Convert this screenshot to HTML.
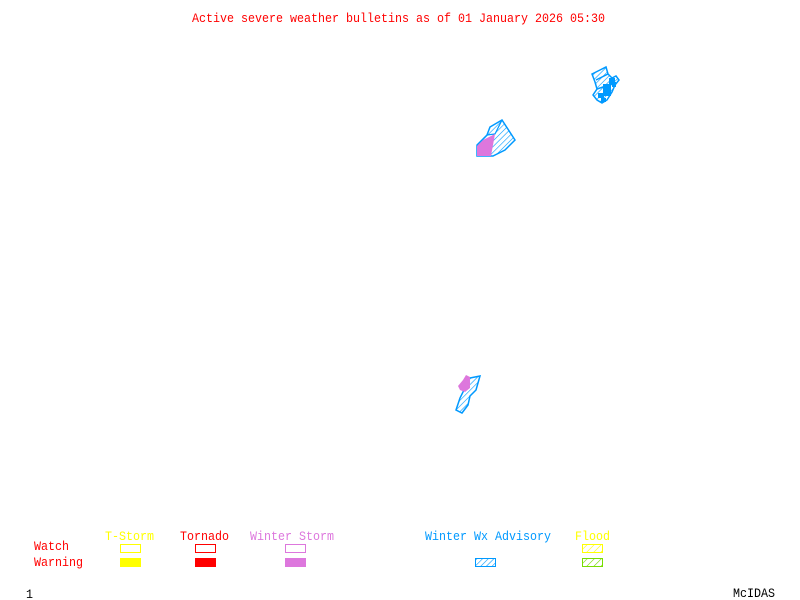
<!DOCTYPE html>
<html><head><meta charset="utf-8"><style>
html,body{margin:0;padding:0;background:#fff;width:800px;height:600px;overflow:hidden}
svg{display:block}
text{font-family:"Liberation Mono",monospace;font-size:13px}
</style></head><body>
<svg width="800" height="600" viewBox="0 0 800 600" xmlns="http://www.w3.org/2000/svg">
<defs>
<pattern id="hb" width="4" height="4" patternUnits="userSpaceOnUse" patternTransform="rotate(45)">
<line x1="0" y1="0" x2="0" y2="4" stroke="#0099ff" stroke-width="1.2"/></pattern>
<pattern id="hy" width="5" height="5" patternUnits="userSpaceOnUse" patternTransform="rotate(45)">
<line x1="0" y1="0" x2="0" y2="5" stroke="#ffff00" stroke-width="1.2"/></pattern>
<pattern id="hg" width="5" height="5" patternUnits="userSpaceOnUse" patternTransform="rotate(45)">
<line x1="0" y1="0" x2="0" y2="5" stroke="#77dd00" stroke-width="1.2"/></pattern>
</defs>
<text x="192" y="22" fill="#ff0000" textLength="413" lengthAdjust="spacingAndGlyphs">Active severe weather bulletins as of 01 January 2026 05:30</text>

<!-- NE blob -->
<g stroke="#0099ff" stroke-width="1.5" fill="url(#hb)">
<polygon points="592,74 600,70 606,67 608,74 612,78 616,76 619,80 615,85 612,92 607,100 602,103 597,100 593,95 597,89 595,82"/>
<line x1="596" y1="80" x2="608" y2="74"/><line x1="597" y1="89" x2="612" y2="84"/>
</g>
<g fill="#0099ff"><rect x="603" y="84" width="8" height="12"/><rect x="609" y="78" width="6" height="6"/><rect x="598" y="93" width="6" height="5"/><rect x="612" y="82" width="4" height="5"/><rect x="601" y="98" width="5" height="4"/></g>

<!-- middle shape -->
<polygon points="490,127 502,120 515,140 505,150 493,156 477,156 477,145 487,135" stroke="#0099ff" stroke-width="1.5" fill="url(#hb)"/>
<polyline points="487,135 495,134 502,120 M495,134 505,150" stroke="#0099ff" stroke-width="1.2" fill="none"/>
<polygon points="477,156 477,146 483,140 495,134 491,156" fill="#dd77dd"/>

<!-- bottom shape -->
<polygon points="470,378 480,376 476,390 470,396 468,405 462,413 456,410 460,398 464,390 466,382" stroke="#0099ff" stroke-width="1.5" fill="url(#hb)"/>
<polygon points="458,386 463,380 466,375 470,377 470,388 465,392 460,390" fill="#dd77dd"/>

<!-- legend -->
<text x="105" y="540" fill="#ffff00" textLength="49" lengthAdjust="spacingAndGlyphs">T-Storm</text>
<text x="180" y="540" fill="#ff0000" textLength="49" lengthAdjust="spacingAndGlyphs">Tornado</text>
<text x="250" y="540" fill="#dd77dd" textLength="84" lengthAdjust="spacingAndGlyphs">Winter Storm</text>
<text x="425" y="540" fill="#0099ff" textLength="126" lengthAdjust="spacingAndGlyphs">Winter Wx Advisory</text>
<text x="575" y="540" fill="#ffff00" textLength="35" lengthAdjust="spacingAndGlyphs">Flood</text>
<text x="34" y="550" fill="#ff0000" textLength="35" lengthAdjust="spacingAndGlyphs">Watch</text>
<text x="34" y="566" fill="#ff0000" textLength="49" lengthAdjust="spacingAndGlyphs">Warning</text>

<rect x="120.5" y="544.5" width="20" height="8" fill="none" stroke="#ffff00"/>
<rect x="120" y="558" width="21" height="9" fill="#ffff00"/>
<rect x="195.5" y="544.5" width="20" height="8" fill="none" stroke="#ff0000"/>
<rect x="195" y="558" width="21" height="9" fill="#ff0000"/>
<rect x="285.5" y="544.5" width="20" height="8" fill="none" stroke="#dd77dd"/>
<rect x="285" y="558" width="21" height="9" fill="#dd77dd"/>
<rect x="475.5" y="558.5" width="20" height="8" fill="url(#hb)" stroke="#0099ff"/>
<rect x="582.5" y="544.5" width="20" height="8" fill="url(#hy)" stroke="#ffff00"/>
<rect x="582.5" y="558.5" width="20" height="8" fill="url(#hg)" stroke="#77dd00"/>

<text x="26" y="598" fill="#000" textLength="7" lengthAdjust="spacingAndGlyphs">1</text>
<text x="733" y="597" fill="#000" textLength="42" lengthAdjust="spacingAndGlyphs">McIDAS</text>
</svg>
</body></html>
